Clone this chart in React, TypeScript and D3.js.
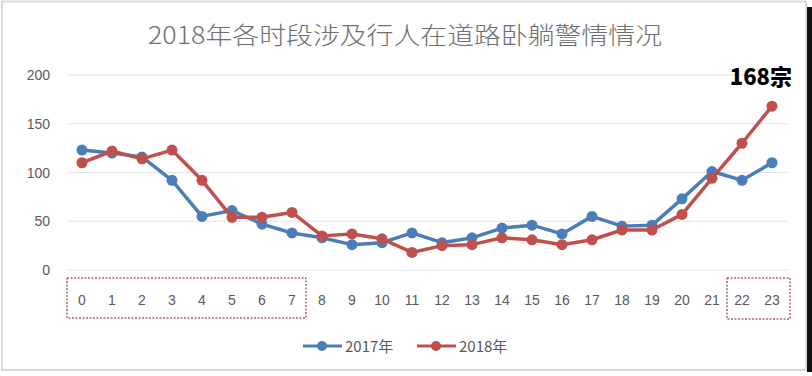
import React from "react";
import * as d3 from "d3";

const hours: string[] = ["0","1","2","3","4","5","6","7","8","9","10","11","12","13","14","15","16","17","18","19","20","21","22","23"];
const values2017: number[] = [123,120,116,92,55,61,47,38,33,26,28,38,28,33,43,46,37,55,45,46,73,101,92,110];
const values2018: number[] = [110,122,114,123,92,54,54,59,35,37,32,18,25,26,33,31,26,31,41,41,57,94,130,168];
const yTicks: number[] = [0,50,100,150,200];
const seriesNames: string[] = ["2017年","2018年"];
const colors: string[] = ["#4a7ebb","#c0504d"];
const title = "2018年各时段涉及行人在道路卧躺警情情况";
const annotation = "168宗";

const W = 812, H = 376;
const FONT = "'Noto Sans CJK SC', 'Noto Sans', sans-serif";

export default function App() {
  const x = d3.scalePoint<string>().domain(hours).range([67, 787]).padding(0.5);
  const y = d3.scaleLinear().domain([0, 200]).range([270, 75]);
  const line = d3.line<number>().x((_, i) => x(hours[i]) as number).y(d => y(d));
  const series = [values2017, values2018];
  const box1 = [x("0")! - 15, x("7")! + 14];
  const box2 = [x("22")! - 15, x("23")! + 18];
  return (
    <svg width={W} height={H} style={{ position: "fixed", left: 0, top: 0, background: "#fff" }} fontFamily={FONT}>
      <rect x={0} y={0} width={W} height={H} fill="#fff" />
      <rect x={2} y={1.5} width={804} height={368.5} fill="none" stroke="#d9d9d9" strokeWidth={2} />
      <rect x={807} y={7} width={5} height={365} fill="#111" />
      <text x={148} y={44} fontSize={24} fontWeight={300} fill="#707070" textLength={514} lengthAdjust="spacingAndGlyphs">{title}</text>
      {yTicks.map(t => (
        <g key={t}>
          <line x1={67} x2={787} y1={y(t)} y2={y(t)} stroke="#e2e2e2" strokeWidth={1} />
          <text x={50} y={y(t) + 5} textAnchor="end" fontSize={14} fill="#595959" fontFamily="'Liberation Sans', sans-serif">{t}</text>
        </g>
      ))}
      {hours.map(h => (
        <text key={h} x={x(h)} y={305} textAnchor="middle" fontSize={14} fill="#595959" fontFamily="'Liberation Sans', sans-serif">{h}</text>
      ))}
      <rect x={box1[0]} y={278} width={box1[1] - box1[0]} height={40} fill="none" stroke="#7a1a2e" strokeWidth={1} strokeDasharray="2,1.5" />
      <rect x={box2[0]} y={278} width={box2[1] - box2[0]} height={41} fill="none" stroke="#7a1a2e" strokeWidth={1} strokeDasharray="2,1.5" />
      {series.map((s, si) => (
        <g key={si}>
          <path d={line(s) || ""} fill="none" stroke={colors[si]} strokeWidth={3.5} strokeLinejoin="round" />
          {s.map((v, i) => (
            <circle key={i} cx={x(hours[i])} cy={y(v)} r={5.5} fill={colors[si]} />
          ))}
        </g>
      ))}
      <text x={792} y={85} textAnchor="end" fontSize={22} fontWeight={900} fill="#000">{annotation}</text>
      {seriesNames.map((n, i) => {
        const x0 = i === 0 ? 303 : 417;
        return (
          <g key={n}>
            <line x1={x0} x2={x0 + 39} y1={346} y2={346} stroke={colors[i]} strokeWidth={3} />
            <circle cx={x0 + 19} cy={346} r={5} fill={colors[i]} />
            <text x={x0 + 42} y={352} fontSize={15} fill="#595959">{n}</text>
          </g>
        );
      })}
    </svg>
  );
}
